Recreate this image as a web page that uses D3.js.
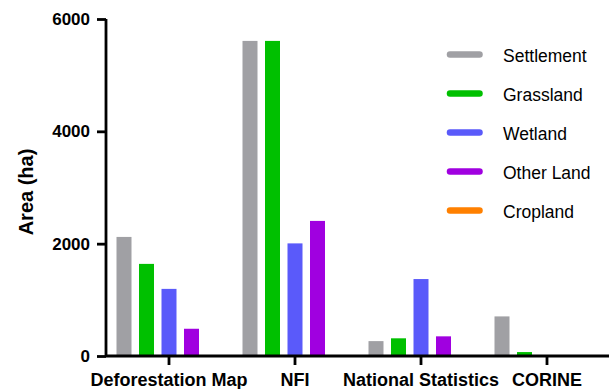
<!DOCTYPE html>
<html><head><meta charset="utf-8">
<script src="https://cdn.jsdelivr.net/npm/d3@7"></script>
<style>body{margin:0;background:#fff}svg{display:block}</style>
</head><body>
<svg id="c" width="609" height="389"></svg>
<script>
const categories = ["Deforestation Map", "NFI", "National Statistics", "CORINE"];
const seriesNames = ["Settlement", "Grassland", "Wetland", "Other Land", "Cropland"];
const settlement = [2120, 5610, 265, 705];
const grassland = [1640, 5610, 315, 70];
const wetland = [1195, 2005, 1370, 0];
const otherLand = [485, 2405, 350, 0];
const cropland = [0, 0, 0, 0];
const yTicks = [0, 2000, 4000, 6000];
const colors = ["#A0A0A4", "#00C000", "#5A5AFA", "#A000E0", "#FF8000"];

const series = [settlement, grassland, wetland, otherLand, cropland];
const svg = d3.select("#c");
const font = "Liberation Sans, Arial, sans-serif";

const x = d3.scaleBand().domain(categories).range([106, 610]).paddingInner(0).paddingOuter(0);
const xs = d3.scaleBand().domain(seriesNames).range([0, x.bandwidth()]).paddingInner(1/3).paddingOuter(0.4667);
const y = d3.scaleLinear().domain([0, 6000]).range([356, 19]);

// bars
const g = svg.append("g");
series.forEach((vals, si) => {
  g.selectAll(null).data(vals.map((v, i) => ({v, c: categories[i]})).filter(d => d.v > 0))
    .enter().append("rect")
    .attr("x", d => x(d.c) + xs(seriesNames[si]))
    .attr("width", xs.bandwidth())
    .attr("y", d => y(d.v))
    .attr("height", d => y(0) - y(d.v))
    .attr("fill", colors[si]);
});

// y axis
const ya = svg.append("g").attr("transform", "translate(106,0)")
  .call(d3.axisLeft(y).tickValues(yTicks).tickSize(9).tickPadding(7).tickFormat(d3.format("d")));
ya.select(".domain").attr("stroke-width", 2.8).attr("d", "M0," + y(6000) + "V" + y(0));
ya.selectAll(".tick line").attr("stroke-width", 2.8);
ya.selectAll("text").attr("font-family", font).attr("font-size", 17).attr("font-weight", "bold").attr("fill", "#000");

// x axis
const xa = svg.append("g").attr("transform", "translate(0,356)")
  .call(d3.axisBottom(x).tickSize(9).tickPadding(8));
xa.select(".domain").attr("stroke-width", 2.8).attr("d", "M106,0H609");
xa.selectAll(".tick line").attr("stroke-width", 2.8);
xa.selectAll("text").attr("font-family", font).attr("font-size", 18).attr("font-weight", "bold").attr("fill", "#000");

// y title
svg.append("text").attr("transform", "translate(33,192) rotate(-90)")
  .attr("text-anchor", "middle").attr("font-family", font).attr("font-size", 20).attr("font-weight", "bold")
  .text("Area (ha)");

// legend
const lg = svg.append("g");
seriesNames.forEach((n, i) => {
  const yy = 54.5 + i * 39;
  lg.append("line").attr("x1", 450).attr("x2", 479.5).attr("y1", yy).attr("y2", yy)
    .attr("stroke", colors[i]).attr("stroke-width", 6.5).attr("stroke-linecap", "round");
  lg.append("text").attr("x", 503).attr("y", yy + 7).attr("font-family", font).attr("font-size", 17.5)
    .attr("fill", "#000").text(n);
});
</script>
</body></html>
